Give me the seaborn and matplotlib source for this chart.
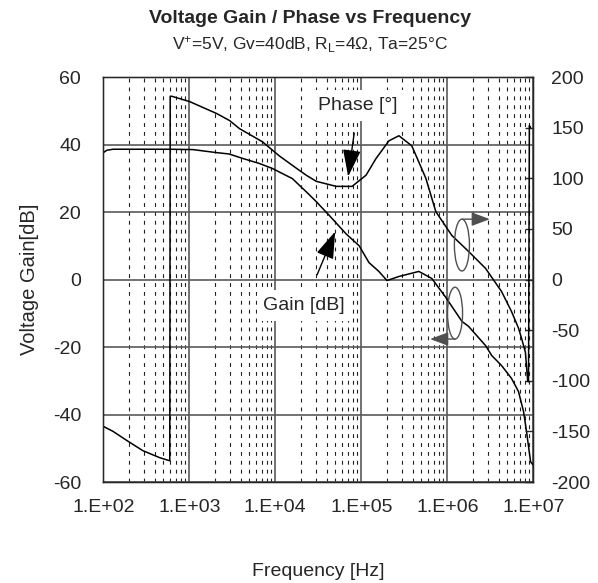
import matplotlib
matplotlib.use("Agg")
import matplotlib.pyplot as plt
import matplotlib.ticker as mticker
from matplotlib.patches import Ellipse
import numpy as np
import pandas as pd
import seaborn as sns

sns.set_style("white")
plt.rcParams["font.family"] = ["Liberation Sans", "DejaVu Sans"]
plt.rcParams["mathtext.fontset"] = "custom"
plt.rcParams["mathtext.rm"] = "Liberation Sans"
plt.rcParams["mathtext.it"] = "Liberation Sans:italic"
plt.rcParams["axes.unicode_minus"] = False

# --- data ---
gain_freq = [100, 110, 130, 300, 600, 1100, 2070, 2900, 4150, 6500, 9250,
             15800, 22900, 29900, 42400, 66700, 94400, 123000, 160000,
             199000, 274000, 467000, 661000, 955000, 1480000, 1770000,
             2790000, 3280000, 4280000, 5580000, 6730000, 7700000, 8340000,
             9300000, 10000000]
gain_db = [37.6, 38.3, 38.6, 38.6, 38.6, 38.5, 37.6, 37.2, 35.9, 34.4, 32.9,
           29.9, 26.0, 23.1, 19.0, 13.5, 10.0, 5.0, 2.4,
           -0.3, 0.9, 2.4, 0.3, -5.2, -12.4, -13.9,
           -19.6, -22.5, -25.5, -29.3, -33.2, -39.1, -45.0,
           -54.0, -55.0]

phase_freq = [100, 130, 188, 288, 454, 593, 600, 625, 1011, 2074, 2940,
              3840, 7100, 11170, 17540, 22900, 29900, 51000, 78200, 113500,
              148300, 209700, 274000, 387000, 563000, 736000, 1130000,
              1770000, 2790000, 4280000, 5580000, 6730000, 7300000, 8100000,
              8600000, 8800000, 9000000, 9300000]
phase_deg = [-145, -150, -159, -169, -176, -179, 181, 181, 175.7, 164, 157,
             149, 136, 122, 110, 103, 97, 92, 92, 103,
             119.5, 137, 142, 132, 100, 67, 43.5,
             27.7, 10.9, -11.9, -31.6, -48, -58, -72,
             -100, -101, 152, 150]

xtick_vals = [1e2, 1e3, 1e4, 1e5, 1e6, 1e7]
xtick_labels = ["1.E+02", "1.E+03", "1.E+04", "1.E+05", "1.E+06", "1.E+07"]
gain_ticks = [-60, -40, -20, 0, 20, 40, 60]
phase_ticks = [-200, -150, -100, -50, 0, 50, 100, 150, 200]

gain_df = pd.DataFrame({"Frequency": gain_freq, "Gain": gain_db})
phase_df = pd.DataFrame({"Frequency": phase_freq, "Phase": phase_deg})

fig = plt.figure(figsize=(5.98, 5.83), dpi=100)
ax = fig.add_axes([0.1727, 0.1732, 0.7191, 0.6947])

sns.lineplot(data=gain_df, x="Frequency", y="Gain", ax=ax, color="black",
             lw=1.1, sort=False, estimator=None)
ax.set_xscale("log")
ax.set_xlim(1e2, 1e7)
ax.set_ylim(-60, 60)
ax.set_xticks(xtick_vals)
ax.set_xticklabels(xtick_labels)
ax.xaxis.set_minor_locator(mticker.LogLocator(base=10, subs=np.arange(2, 10)))
ax.xaxis.set_minor_formatter(mticker.NullFormatter())
ax.set_yticks(gain_ticks)
ax.set_axisbelow(True)
ax.grid(which="major", axis="both", color="#5a5a5a", lw=1.2, ls="-")
ax.grid(which="minor", axis="x", color="#202020", lw=0.8, ls=(0, (3.5, 4.5)))
ax.tick_params(which="both", length=0, labelsize=14)
ax.tick_params(axis="y", pad=16)
ax.tick_params(axis="x", pad=12)
ax.set_xlabel("Frequency [Hz]", fontsize=14, labelpad=34)
ax.set_ylabel("Voltage Gain[dB]", fontsize=14.5, labelpad=10)
for s in ax.spines.values():
    s.set_color("black")
    s.set_linewidth(1.0)

ax2 = ax.twinx()
sns.lineplot(data=phase_df, x="Frequency", y="Phase", ax=ax2, color="black",
             lw=1.1, sort=False, estimator=None)
ax2.set_ylim(-200, 200)
ax2.set_yticks(phase_ticks)
ax2.set_ylabel("")
ax2.tick_params(axis="y", direction="in", length=6, width=1, labelsize=14, pad=13)
ax2.grid(False)

# --- annotations ---
ax2.annotate("Phase [°]", xy=(70300, 30.5), xycoords=ax.transData,
             xytext=(91800, 51.6), textcoords=ax.transData,
             ha="center", va="center", fontsize=14, zorder=10,
             bbox=dict(boxstyle="square,pad=0.35", fc="white", ec="none"),
             arrowprops=dict(arrowstyle="-|>,head_width=0.4,head_length=1.2",
                             color="black", lw=1, mutation_scale=14,
                             shrinkA=9, shrinkB=0))
ax2.annotate("Gain [dB]", xy=(49700, 14.2), xycoords=ax.transData,
             xytext=(21700, -7.7), textcoords=ax.transData,
             ha="center", va="center", fontsize=14, zorder=10,
             bbox=dict(boxstyle="square,pad=0.35", fc="white", ec="none"),
             arrowprops=dict(arrowstyle="-|>,head_width=0.4,head_length=1.2",
                             color="black", lw=1, mutation_scale=14,
                             shrinkA=12, shrinkB=0))

for cx, cy in [(0.834, 0.585), (0.818, 0.417)]:
    ax2.add_patch(Ellipse((cx, cy), 0.035, 0.128, transform=ax2.transAxes,
                          fill=False, ec="#505050", lw=1.0, zorder=5))
ax2.annotate("", xy=(0.899, 0.649), xytext=(0.836, 0.649),
             xycoords="axes fraction", textcoords="axes fraction",
             arrowprops=dict(arrowstyle="-|>,head_width=0.3,head_length=0.8",
                             color="#505050", lw=1, mutation_scale=14,
                             shrinkA=0, shrinkB=0))
ax2.annotate("", xy=(0.760, 0.353), xytext=(0.818, 0.353),
             xycoords="axes fraction", textcoords="axes fraction",
             arrowprops=dict(arrowstyle="-|>,head_width=0.3,head_length=0.8",
                             color="#505050", lw=1, mutation_scale=14,
                             shrinkA=0, shrinkB=0))

fig.text(0.518, 0.969, "Voltage Gain / Phase vs Frequency", ha="center",
         va="center", fontsize=14, fontweight="bold")
fig.text(0.518, 0.923,
         r"V$^{+}$=5V, Gv=40dB, R$_{\mathrm{L}}$=4Ω, Ta=25°C",
         ha="center", va="center", fontsize=12.5)

fig.savefig("out.png", dpi=100)
